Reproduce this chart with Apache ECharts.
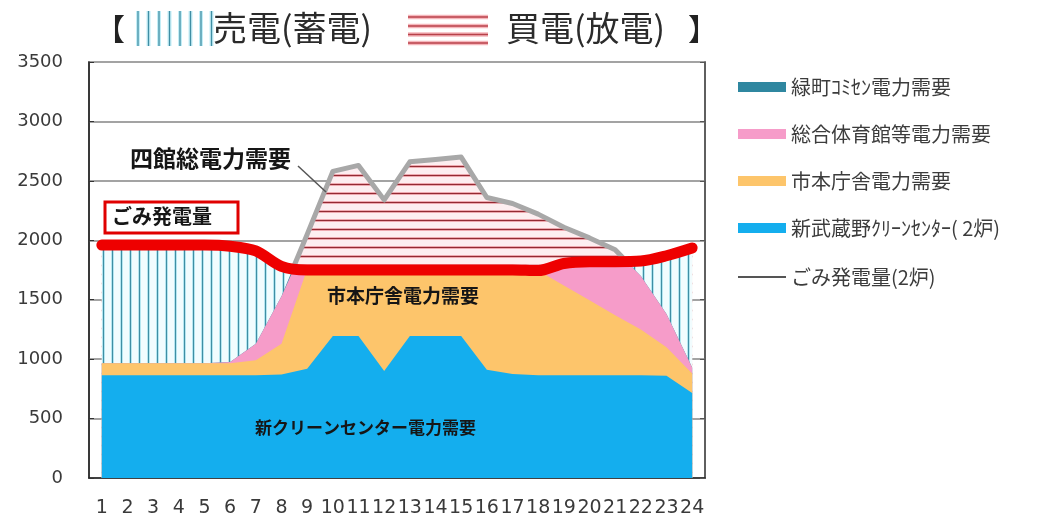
<!DOCTYPE html>
<html><head><meta charset="utf-8">
<script src="https://cdn.jsdelivr.net/npm/echarts@6/dist/echarts.min.js"></script>
<style>html,body{margin:0;padding:0;background:#fff}#c{width:1045px;height:522px}</style>
</head><body><div id="c"></div>
<script>
// ---- data (kW) ----
const hours = [1,2,3,4,5,6,7,8,9,10,11,12,13,14,15,16,17,18,19,20,21,22,23,24];
const hourLabels = hours.map(String);
const yMin = 0, yMax = 3500, yStep = 500;
const cleanCenter = [865,865,865,865,865,865,865,870,920,1195,1195,900,1195,1195,1195,910,875,865,865,865,865,865,860,715];
const cityHall    = [100,100,100,100,100,100,125,260,840,565,565,860,565,565,565,850,885,880,755,630,505,385,240,165];
const gym         = [0,0,0,0,0,10,140,400,250,780,830,540,860,880,900,560,510,435,450,485,550,450,280,50];
const community   = [0,0,0,0,0,0,0,0,40,40,40,40,40,40,40,40,40,40,40,40,0,0,0,0];
const generation  = [1960,1960,1960,1960,1960,1950,1910,1780,1750,1750,1750,1750,1750,1750,1750,1750,1750,1745,1805,1820,1820,1825,1870,1935];

const names = {
  community: '緑町ｺﾐｾﾝ電力需要',
  gym: '総合体育館等電力需要',
  city: '市本庁舎電力需要',
  clean: '新武蔵野ｸﾘｰﾝｾﾝﾀｰ( 2炉)',
  gen: 'ごみ発電量(2炉)'
};

// ---- derived (cumulative demand, clipping against generation) ----
const cumClean = cleanCenter.slice();
const cumCity = cumClean.map((v,i)=>v+cityHall[i]);
const cumGym = cumCity.map((v,i)=>v+gym[i]);
const total = cumGym.map((v,i)=>v+community[i]);

// mode: 'min' | 'max' | 'over' (a where a>=b, null elsewhere)
function combine(a, b, mode){
  const out=[];
  for (let i=0;i<hours.length;i++){
    if (mode==='min') out.push([hours[i], Math.min(a[i],b[i])]);
    else if (mode==='max') out.push([hours[i], Math.max(a[i],b[i])]);
    else out.push([hours[i], a[i]>=b[i] ? a[i] : null]);
    if (i<hours.length-1){
      const d0=a[i]-b[i], d1=a[i+1]-b[i+1];
      if (d0*d1<0){
        const t=d0/(d0-d1);
        out.push([hours[i]+t, a[i]+t*(a[i+1]-a[i])]);
      }
    }
  }
  return out;
}

function tile(w,h,bg,draw){const c=document.createElement('canvas');c.width=w;c.height=h;const g=c.getContext('2d');g.fillStyle=bg;g.fillRect(0,0,w,h);draw(g);return c;}
const vPat = tile(9,9,'#f1fcfe',g=>{g.fillStyle='#b5e6f0';g.fillRect(3,0,1,9);g.fillRect(5,0,1,9);g.fillStyle='#3f8ea4';g.fillRect(4,0,1,9);});
const hPat = tile(9,9,'#fdeef0',g=>{g.fillStyle='#eea9b0';g.fillRect(0,3,9,1);g.fillRect(0,5,9,1);g.fillStyle='#932a32';g.fillRect(0,4,9,1);});

const CJK = '"Noto Sans CJK JP", "Noto Sans", sans-serif';
const C = { clean:'#14aeee', city:'#fdc56b', gym:'#f69cc9', community:'#2f87a0', gen:'#ee0000', gray:'#a8a8a8' };

const area = (name, data, color, z) => ({
  name, type:'line', xAxisIndex:1, data, color, z,
  symbol:'none', lineStyle:{width:0}, areaStyle:{color, opacity:1}, silent:true
});

// title graphics
const g = [];
g.push({type:'text', left:95, top:14, style:{text:'【', font:'30px '+CJK, fill:'#222'}});
for (let i=0;i<8;i++) g.push({type:'line', shape:{x1:138+10.5*i,y1:11,x2:138+10.5*i,y2:46}, style:{stroke:'#c3edf6', lineWidth:4}});
for (let i=0;i<8;i++) g.push({type:'line', shape:{x1:138+10.5*i,y1:11,x2:138+10.5*i,y2:46}, style:{stroke:'#3f8ea4', lineWidth:1.3}});
g.push({type:'text', left:213, top:11, style:{text:'売電(蓄電)', font:'34px '+CJK, fill:'#2b2b2b'}});
[17,26,34.5,43].forEach(y=>g.push({type:'line', shape:{x1:408,y1:y,x2:488,y2:y}, style:{stroke:'#f5b6bb', lineWidth:4.5}}));
[17,26,34.5,43].forEach(y=>g.push({type:'line', shape:{x1:408,y1:y,x2:488,y2:y}, style:{stroke:'#b8414a', lineWidth:1.6}}));
g.push({type:'text', left:506, top:11, style:{text:'買電(放電)', font:'34px '+CJK, fill:'#2b2b2b'}});
g.push({type:'text', left:688, top:14, style:{text:'】', font:'30px '+CJK, fill:'#222'}});
// annotations
g.push({type:'text', left:130, top:147, z:100, style:{text:'四館総電力需要', font:'bold 23px '+CJK, fill:'#161616'}});
g.push({type:'line', z:100, shape:{x1:298,y1:166,x2:326,y2:192}, style:{stroke:'#555', lineWidth:1.5}});
g.push({type:'rect', z:100, shape:{x:105,y:202,width:133,height:31}, style:{fill:'#fff', stroke:'#e00000', lineWidth:3}});
g.push({type:'text', left:112, top:206, z:101, style:{text:'ごみ発電量', font:'bold 20px '+CJK, fill:'#161616'}});
g.push({type:'text', left:327, top:286, z:100, style:{text:'市本庁舎電力需要', font:'bold 19px '+CJK, fill:'#161616'}});
g.push({type:'text', left:255, top:419, z:100, style:{text:'新クリーンセンター電力需要', font:'bold 17px '+CJK, fill:'#161616'}});

const chart = echarts.init(document.getElementById('c'), null, {renderer:'canvas'});
chart.setOption({
  animation:false,
  backgroundColor:'#fff',
  grid:{left:89, right:340, top:62, bottom:44, show:true, borderColor:'#555', borderWidth:1.5, backgroundColor:'#fff'},
  xAxis:[
    {type:'category', data:hourLabels, boundaryGap:true, axisLine:{lineStyle:{color:'#222', width:1.5}}, axisTick:{show:false},
     axisLabel:{interval:0, margin:21, fontSize:19, fontFamily:'DejaVu Sans', color:'#3a3a3a'}},
    {type:'value', min:0.5, max:24.5, show:false}
  ],
  yAxis:[
    {type:'value', min:yMin, max:yMax, interval:yStep,
     axisLine:{show:true, lineStyle:{color:'#222', width:1.5}}, axisTick:{show:true, inside:true, length:5, lineStyle:{color:'#333'}},
     axisLabel:{margin:26, fontSize:18, fontFamily:'DejaVu Sans', color:'#3a3a3a', formatter:v=>String(v)},
     splitLine:{lineStyle:{color:'#a3a3a3', width:2}}},
    {type:'value', min:yMin, max:yMax, interval:yStep, position:'right',
     axisLine:{show:true, lineStyle:{color:'#555', width:1.5}}, axisTick:{show:true, inside:true, length:5, lineStyle:{color:'#555'}},
     axisLabel:{show:false}, splitLine:{show:false}}
  ],
  legend:[
    {orient:'vertical', left:733, top:72, itemWidth:48, itemHeight:10, itemGap:27, icon:'rect', selectedMode:false,
     data:[names.community, names.gym, names.city, names.clean],
     textStyle:{fontSize:20, fontFamily:CJK, color:'#3c3c3c'}},
    {orient:'vertical', left:733, top:262, itemWidth:48, itemHeight:2, selectedMode:false,
     data:[{name:names.gen, icon:'rect', itemStyle:{color:'#555', borderWidth:0, borderColor:'#555'}}],
     textStyle:{fontSize:20, fontFamily:CJK, color:'#3c3c3c'}}
  ],
  graphic:g,
  series:[
    {name:'買電(放電)', type:'line', xAxisIndex:1, data:combine(total, generation, 'max'), symbol:'none', lineStyle:{width:0}, silent:true, z:2,
     areaStyle:{color:{image:hPat, repeat:'repeat'}, opacity:1}},
    {name:'売電(蓄電)', type:'line', xAxisIndex:1, data:hours.map((h,i)=>[h, generation[i]]), symbol:'none', lineStyle:{width:0}, silent:true, z:2,
     areaStyle:{color:{image:vPat, repeat:'repeat'}, opacity:1}},
    area(names.community, combine(total, generation, 'min'), C.community, 3),
    area(names.gym, combine(cumGym, generation, 'min'), C.gym, 3),
    area(names.city, combine(cumCity, generation, 'min'), C.city, 3),
    area(names.clean, combine(cumClean, generation, 'min'), C.clean, 3),
    {name:'四館総電力需要', type:'line', xAxisIndex:1, data:combine(total, generation, 'over'), symbol:'none', connectNulls:false, silent:true, z:4,
     lineStyle:{color:C.gray, width:5, join:'round'}},
    {name:names.gen, type:'line', xAxisIndex:1, data:hours.map((h,i)=>[h, generation[i]]), symbol:'none', smooth:0.3, silent:true, z:5,
     color:C.gen, lineStyle:{color:C.gen, width:11, cap:'round', join:'round'}}
  ]
});
</script></body></html>
